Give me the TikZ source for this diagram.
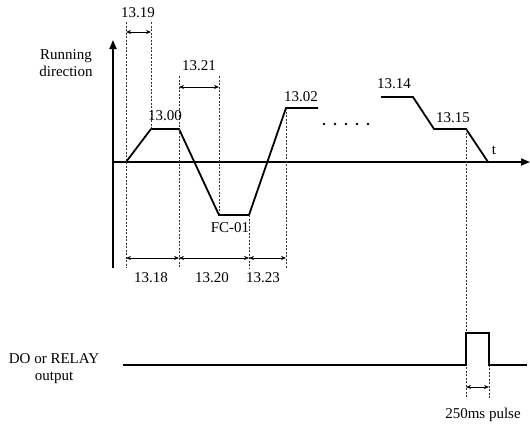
\documentclass[tikz,border=0pt]{standalone}
\usepackage{fontspec}
\setmainfont{Liberation Serif}
\usetikzlibrary{arrows.meta}

\begin{document}
\begin{tikzpicture}[
    x=1pt, y=-1pt,
    every node/.style={font=\fontsize{15}{17}\selectfont, inner sep=1pt},
    axis/.style={-{Triangle[length=9pt,width=7pt]}, line width=1.7pt},
    wave/.style={line width=1.8pt, line join=miter},
    guide/.style={line width=0.5pt, dash pattern=on 2pt off 1.5pt, black!80},
    dim/.style={{Stealth[length=5pt,width=4pt]}-{Stealth[length=5pt,width=4pt]}, line width=0.7pt},
]
\useasboundingbox (0,0) rectangle (530,424);

% Axes
\coordinate (o) at (113,162);
\coordinate (ytop) at (113,40);
\coordinate (ybot) at (113,268);
\coordinate (xend) at (530,162);
\draw[line width=1.7pt] (ybot) -- (o);
\draw[axis] (o) -- (ytop);
\draw[axis] (o) -- (xend);

% Waveform points
\coordinate (a0) at (126,162);
\coordinate (a1) at (151,129);
\coordinate (a2) at (179,129);
\coordinate (a3) at (219,215);
\coordinate (a4) at (249,215);
\coordinate (a5) at (286,108);
\coordinate (a6) at (318,108);
\coordinate (b0) at (381,97);
\coordinate (b1) at (413,97);
\coordinate (b2) at (434,129);
\coordinate (b3) at (466,129);
\coordinate (b4) at (488,162);
\draw[wave] (a0) -- (a1) -- (a2) -- (a3) -- (a4) -- (a5) -- (a6);
\draw[wave] (b0) -- (b1) -- (b2) -- (b3) -- (b4);
\foreach \x in {324,335,346,357,368}
  \fill (\x,124) circle (1.3pt);

% Guide lines
\draw[guide] (126,22) -- (126,268);
\draw[guide] (151,22) -- (a1);
\draw[guide] (179,76) -- (179,268);
\draw[guide] (219,76) -- (a3);
\draw[guide] (a4) -- (249,268);
\draw[guide] (a5) -- (286,268);
\draw[guide] (b3) -- (466,398);
\draw[guide] (489,333) -- (489,398);

% Dimension arrows
\draw[dim] (126,32) -- (151,32);
\draw[dim] (179,87) -- (219,87);
\draw[dim] (126,258) -- (179,258);
\draw[dim] (179,258) -- (249,258);
\draw[dim] (249,258) -- (286,258);
\draw[dim] (466,387) -- (489,387);

% Relay output
\coordinate (r0) at (123,365);
\coordinate (r1) at (466,365);
\coordinate (r2) at (466,333);
\coordinate (r3) at (489,333);
\coordinate (r4) at (489,365);
\coordinate (r5) at (527,365);
\draw[wave] (r0) -- (r1) -- (r2) -- (r3) -- (r4) -- (r5);

% Labels
\node (l1319) at (138,13) {13.19};
\node (l1321) at (199,66) {13.21};
\node (l1300) at (165,116) {13.00};
\node (l1302) at (301,97) {13.02};
\node (l1314) at (394,84) {13.14};
\node (l1315) at (453,118) {13.15};
\node (lt) at (494,150) {t};
\node (lfc) at (230,228) {FC-01};
\node (l1318) at (151,278) {13.18};
\node (l1320) at (212,278) {13.20};
\node (l1323) at (263,278) {13.23};
\node (lpulse) at (483,415) {250ms pulse};
\node[align=center] (lrun) at (66,63) {Running\\direction};
\node[align=center] (lrelay) at (54,369) {DO or RELAY\\output};

\end{tikzpicture}
\end{document}
